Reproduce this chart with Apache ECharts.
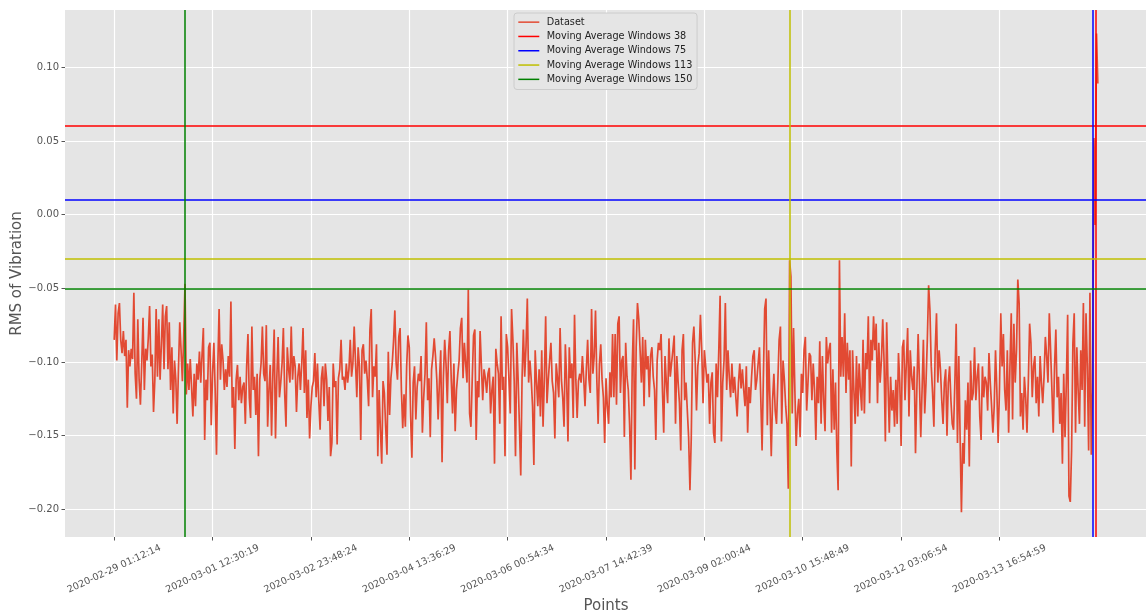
<!DOCTYPE html>
<html>
<head>
<meta charset="utf-8">
<script src="https://cdn.jsdelivr.net/npm/echarts@6/dist/echarts.min.js"></script>
<style>
  html, body { margin: 0; padding: 0; background: #ffffff; }
  #chart { width: 1146px; height: 615px; }
</style>
</head>
<body>
<div id="chart"></div>
<script>
// RMS of vibration for each sample point (array position = point number)
const rmsValues = [
  // points 0-183
  -0.085, -0.061, -0.099, -0.067, -0.060, -0.085, -0.094, -0.079, -0.096,
  -0.085, -0.131, -0.092, -0.103, -0.091, -0.098, -0.053, -0.108, -0.125, -0.071,
  -0.112, -0.129, -0.101, -0.070, -0.119, -0.091, -0.099, -0.084, -0.062,
  -0.103, -0.095, -0.134, -0.112, -0.064, -0.110, -0.071, -0.112, -0.088, -0.061,
  -0.105, -0.069, -0.062, -0.105, -0.073, -0.119, -0.090, -0.135, -0.099,
  -0.112, -0.142, -0.105, -0.073, -0.092, -0.113, -0.083, -0.047, -0.122, -0.101,
  -0.119, -0.098, -0.117, -0.137, -0.108, -0.130, -0.101, -0.112, -0.093, -0.114,
  -0.095, -0.077, -0.153, -0.112, -0.126, -0.090, -0.087, -0.143, -0.108, -0.087,
  -0.119, -0.163, -0.103, -0.064, -0.112, -0.088, -0.099, -0.119, -0.105, -0.117,
  -0.096, -0.110, -0.059, -0.131, -0.117, -0.159, -0.112, -0.102, -0.126, -0.110,
  -0.128, -0.117, -0.114, -0.142, -0.103, -0.081, -0.124, -0.138, -0.076, -0.119,
  -0.110, -0.136, -0.108, -0.164, -0.112, -0.101, -0.076, -0.108, -0.113, -0.075, -0.144,
  -0.119, -0.102, -0.150, -0.108, -0.078, -0.152, -0.111, -0.083, -0.124, -0.114,
  -0.101, -0.077, -0.121, -0.144, -0.090, -0.105, -0.114, -0.076, -0.112, -0.096,
  -0.103, -0.134, -0.110, -0.101, -0.119, -0.101, -0.077, -0.121, -0.092, -0.138,
  -0.112, -0.152, -0.130, -0.117, -0.113, -0.094, -0.124, -0.101, -0.126, -0.146, -0.111,
  -0.103, -0.130, -0.101, -0.112, -0.140, -0.117, -0.164, -0.155, -0.101, -0.117,
  -0.113, -0.156, -0.111, -0.105, -0.085, -0.112, -0.110, -0.119, -0.101, -0.114,
  -0.105, -0.085, -0.110, -0.101, -0.076,
  // points 184-370
  -0.076, -0.124, -0.090, -0.103, -0.153, -0.092, -0.088, -0.108, -0.099, -0.112,
  -0.130, -0.078, -0.064, -0.124, -0.103, -0.110, -0.088, -0.164, -0.119, -0.146,
  -0.169, -0.113, -0.121, -0.144, -0.163, -0.093, -0.136, -0.111, -0.101, -0.086,
  -0.065, -0.101, -0.112, -0.083, -0.077, -0.119, -0.145, -0.122, -0.144, -0.103,
  -0.082, -0.090, -0.137, -0.165, -0.114, -0.103, -0.139, -0.117, -0.108, -0.113,
  -0.096, -0.148, -0.124, -0.108, -0.073, -0.126, -0.111, -0.151, -0.105, -0.096,
  -0.084, -0.096, -0.112, -0.139, -0.113, -0.092, -0.168, -0.111, -0.085, -0.101,
  -0.128, -0.092, -0.079, -0.112, -0.135, -0.101, -0.147, -0.119, -0.108, -0.099,
  -0.077, -0.070, -0.111, -0.087, -0.101, -0.114, -0.051, -0.135, -0.144, -0.112,
  -0.082, -0.078, -0.153, -0.113, -0.124, -0.079, -0.103, -0.126, -0.105, -0.111,
  -0.121, -0.108, -0.104, -0.135, -0.119, -0.110, -0.169, -0.091, -0.101, -0.108,
  -0.142, -0.069, -0.119, -0.110, -0.164, -0.081, -0.090, -0.112, -0.135, -0.064,
  -0.085, -0.113, -0.164, -0.087, -0.112, -0.144, -0.177, -0.111, -0.078, -0.110,
  -0.090, -0.057, -0.114, -0.099, -0.112, -0.130, -0.170, -0.092, -0.113, -0.130,
  -0.105, -0.137, -0.092, -0.144, -0.111, -0.069, -0.128, -0.112, -0.099, -0.087,
  -0.113, -0.121, -0.152, -0.101, -0.111, -0.124, -0.077, -0.112, -0.124, -0.144,
  -0.088, -0.113, -0.154, -0.090, -0.111, -0.101, -0.138, -0.068, -0.112, -0.138,
  -0.113, -0.108, -0.114, -0.096, -0.111, -0.130, -0.105, -0.085, -0.112, -0.121,
  -0.064, -0.108, -0.096, -0.065, -0.112, -0.142, -0.101,
  // points 371-556
  -0.088, -0.112, -0.124, -0.155, -0.111, -0.130, -0.142, -0.107, -0.124, -0.081,
  -0.124, -0.081, -0.129, -0.074, -0.069, -0.121, -0.099, -0.096, -0.151, -0.087,
  -0.110, -0.119, -0.143, -0.180, -0.103, -0.071, -0.173, -0.090, -0.060, -0.071,
  -0.092, -0.114, -0.083, -0.130, -0.085, -0.105, -0.096, -0.124, -0.096, -0.090,
  -0.110, -0.119, -0.153, -0.099, -0.087, -0.092, -0.081, -0.118, -0.148, -0.096,
  -0.114, -0.128, -0.084, -0.110, -0.101, -0.092, -0.082, -0.142, -0.096, -0.114,
  -0.128, -0.160, -0.092, -0.081, -0.126, -0.114, -0.133, -0.151, -0.187, -0.152,
  -0.087, -0.076, -0.099, -0.133, -0.103, -0.094, -0.068, -0.092, -0.128, -0.092, -0.103,
  -0.114, -0.108, -0.142, -0.114, -0.107, -0.148, -0.155, -0.101, -0.124, -0.092,
  -0.055, -0.154, -0.114, -0.099, -0.060, -0.119, -0.092, -0.110, -0.124, -0.101,
  -0.121, -0.110, -0.124, -0.137, -0.114, -0.101, -0.118, -0.105, -0.119, -0.130,
  -0.103, -0.148, -0.117, -0.128, -0.110, -0.096, -0.092, -0.119, -0.112, -0.101, -0.090,
  -0.124, -0.160, -0.110, -0.064, -0.057, -0.143, -0.092, -0.126, -0.164, -0.126,
  -0.108, -0.133, -0.142, -0.114, -0.085, -0.076, -0.142, -0.099, -0.112, -0.130,
  -0.142, -0.186, -0.031, -0.042, -0.135, -0.077, -0.119, -0.157, -0.135, -0.125,
  -0.151, -0.108, -0.121, -0.092, -0.083, -0.133, -0.114, -0.094, -0.096, -0.126,
  -0.101, -0.119, -0.153, -0.110, -0.128, -0.086, -0.142, -0.096, -0.126, -0.147,
  -0.083, -0.101, -0.092, -0.087, -0.148, -0.105, -0.146, -0.114, -0.160, -0.187,
  -0.031, -0.110, -0.083, -0.110,
  // points 557-750
  -0.067, -0.121, -0.087, -0.112, -0.092, -0.171, -0.092, -0.119, -0.142, -0.096,
  -0.137, -0.101, -0.119, -0.133, -0.085, -0.135, -0.094, -0.105, -0.069, -0.128,
  -0.085, -0.099, -0.069, -0.092, -0.074, -0.128, -0.087, -0.114, -0.099, -0.071,
  -0.099, -0.154, -0.073, -0.114, -0.148, -0.110, -0.133, -0.119, -0.144, -0.112,
  -0.142, -0.094, -0.114, -0.157, -0.090, -0.085, -0.126, -0.101, -0.077, -0.137,
  -0.092, -0.110, -0.119, -0.103, -0.162, -0.119, -0.081, -0.114, -0.151, -0.119,
  -0.085, -0.135, -0.114, -0.085, -0.048, -0.065, -0.103, -0.121, -0.144, -0.092,
  -0.067, -0.114, -0.092, -0.105, -0.126, -0.142, -0.114, -0.105, -0.150, -0.114,
  -0.103, -0.126, -0.142, -0.146, -0.114, -0.074, -0.155, -0.096, -0.151, -0.202,
  -0.155, -0.169, -0.126, -0.146, -0.114, -0.171, -0.099, -0.126, -0.121, -0.090,
  -0.126, -0.110, -0.101, -0.137, -0.153, -0.103, -0.124, -0.110, -0.114, -0.133,
  -0.094, -0.114, -0.130, -0.148, -0.130, -0.092, -0.119, -0.155, -0.119, -0.067,
  -0.103, -0.081, -0.119, -0.133, -0.092, -0.148, -0.103, -0.067, -0.139, -0.074,
  -0.114, -0.092, -0.044, -0.060, -0.137, -0.121, -0.146, -0.110, -0.124, -0.148,
  -0.114, -0.074, -0.087, -0.124, -0.103, -0.096, -0.128, -0.110, -0.137, -0.096, -0.114,
  -0.128, -0.110, -0.083, -0.096, -0.114, -0.067, -0.092, -0.119, -0.148, -0.103, -0.078,
  -0.124, -0.110, -0.142, -0.121, -0.169, -0.108, -0.151, -0.114, -0.068, -0.191,
  -0.195, -0.160, -0.087, -0.067, -0.148, -0.090, -0.119, -0.142, -0.092, -0.119,
  -0.060, -0.144, -0.067, -0.103, -0.160,
  -0.053, -0.163, -0.120, 0.052, -0.007, 0.123, 0.089
];

// x-axis ticks: point numbers and the timestamps printed under them
const tickPositions = [0, 75, 150, 225, 300, 375, 450, 525, 600, 675];
const tickLabels = [
  '2020-02-29 01:12:14', '2020-03-01 12:30:19', '2020-03-02 23:48:24',
  '2020-03-04 13:36:29', '2020-03-06 00:54:34', '2020-03-07 14:42:39',
  '2020-03-09 02:00:44', '2020-03-10 15:48:49', '2020-03-12 03:06:54',
  '2020-03-13 16:54:59'
];

// y-axis ticks
const yTicks = [-0.20, -0.15, -0.10, -0.05, 0.00, 0.05, 0.10];

// moving-average windows: level line and point marker for each window
const windowNames = [
  'Moving Average Windows 38', 'Moving Average Windows 75',
  'Moving Average Windows 113', 'Moving Average Windows 150'
];
const windowColors = ['#FF0000', '#0000FF', '#BFBF00', '#008000'];
const windowLevels = [0.0602, 0.0088, -0.0314, -0.0503];
const windowPoints = [748.6, 746.5, 514.9, 53.6];

const datasetName = 'Dataset';
const datasetColor = '#E24A33';

const FONT = 'DejaVu Sans';
const GREY = '#555555';

// axis limits with a 5% margin around the data, as in the original plot
const lastPoint = rmsValues.length - 1;
const xMin = -0.05 * lastPoint;
const xMax = 1.05 * lastPoint;

function fmtY(v) {
  const r = Math.round(v * 100) / 100;
  if (r === 0) return '0.00';
  return (r < 0 ? '\u2212' : '') + Math.abs(r).toFixed(2);
}

const chart = echarts.init(document.getElementById('chart'), null, { renderer: 'canvas' });

const series = [{
  name: datasetName,
  type: 'line',
  data: rmsValues.map((v, i) => [i, v]),
  showSymbol: false,
  symbol: 'none',
  color: datasetColor,
  lineStyle: { color: datasetColor, width: 1.7 },
  z: 2
}];

windowNames.forEach((name, k) => {
  series.push({
    name: name,
    type: 'line',
    data: [],
    color: windowColors[k],
    lineStyle: { color: windowColors[k], width: 1.5 },
    z: 3,
    markLine: {
      silent: true,
      symbol: ['none', 'none'],
      label: { show: false },
      lineStyle: { color: windowColors[k], width: 1.5, type: 'solid' },
      emphasis: { disabled: true },
      data: [{ yAxis: windowLevels[k] }, { xAxis: windowPoints[k] }]
    }
  });
});

chart.setOption({
  animation: false,
  backgroundColor: '#ffffff',
  grid: {
    left: 65, right: -1, top: 10, bottom: 78,
    outerBoundsMode: 'none',
    containLabel: false,
    show: true, backgroundColor: '#E5E5E5', borderWidth: 0
  },
  legend: {
    orient: 'vertical',
    left: 514, top: 13,
    padding: [2, 4.6, 3, 4.3],
    itemGap: 0,
    itemWidth: 21,
    itemHeight: 1.5,
    icon: 'rect',
    backgroundColor: '#E5E5E5',
    borderColor: '#CCCCCC',
    borderWidth: 1,
    borderRadius: 3,
    selectedMode: false,
    textStyle: { fontFamily: FONT, fontSize: 9.7, color: '#222222', lineHeight: 14.3, padding: [0, 0, 0, 2.4] },
    data: [datasetName].concat(windowNames)
  },
  xAxis: {
    type: 'value',
    min: xMin,
    max: xMax,
    name: 'Points',
    nameLocation: 'middle',
    nameGap: 62,
    nameMoveOverlap: false,
    nameTextStyle: { fontFamily: FONT, fontSize: 15, color: GREY },
    axisLine: { show: false, onZero: false },
    axisTick: { show: true, length: 3.5, lineStyle: { color: GREY, width: 1 }, customValues: tickPositions },
    axisLabel: {
      customValues: tickPositions,
      formatter: (v) => tickLabels[tickPositions.indexOf(Math.round(v))] || '',
      rotate: 25,
      align: 'center',
      verticalAlign: 'middle',
      margin: 32,
      fontFamily: FONT, fontSize: 9.6, color: GREY
    },
    splitLine: { show: true, lineStyle: { color: '#FFFFFF', width: 1.2 } }
  },
  yAxis: {
    type: 'value',
    min: -0.2188,
    max: 0.1389,
    name: 'RMS of Vibration',
    nameLocation: 'middle',
    nameRotate: 90,
    nameGap: 40,
    nameMoveOverlap: false,
    nameTextStyle: { fontFamily: FONT, fontSize: 15, color: GREY },
    axisLine: { show: false, onZero: false },
    axisTick: { show: true, length: 3.5, lineStyle: { color: GREY, width: 1 }, customValues: yTicks },
    axisLabel: {
      customValues: yTicks,
      formatter: fmtY,
      margin: 6,
      fontFamily: FONT, fontSize: 10, color: GREY
    },
    splitLine: { show: true, lineStyle: { color: '#FFFFFF', width: 1.2 } }
  },
  series: series
});
</script>
</body>
</html>
